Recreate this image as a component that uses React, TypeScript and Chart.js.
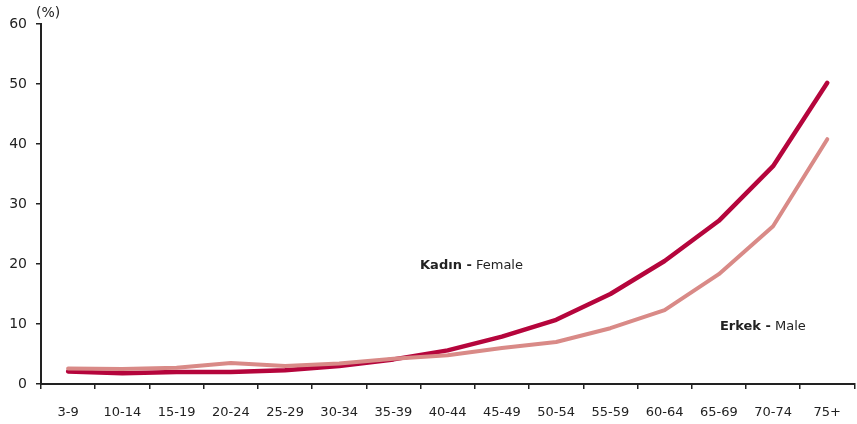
import React, { useEffect, useRef } from "react";
import { Chart, registerables } from "chart.js";

Chart.register(...registerables);

const categories = ["3-9", "10-14", "15-19", "20-24", "25-29", "30-34", "35-39", "40-44", "45-49", "50-54", "55-59", "60-64", "65-69", "70-74", "75+"];
const femaleValues = [2.1, 1.8, 2.0, 2.0, 2.3, 3.0, 4.1, 5.6, 7.9, 10.7, 15.0, 20.5, 27.2, 36.3, 50.2];
const maleValues = [2.6, 2.5, 2.7, 3.5, 3.0, 3.4, 4.2, 4.8, 6.0, 7.0, 9.3, 12.3, 18.3, 26.3, 40.8];
const yTicks = [0, 10, 20, 30, 40, 50, 60];

const FONT = "'DejaVu Sans', Verdana, sans-serif";
const TEXT = "#222222";

const annotations = [
  { bold: "Kadın -", normal: " Female", xIndex: 6.49, y: 19.7 },
  { bold: "Erkek -", normal: " Male", xIndex: 12.02, y: 9.5 },
];

const textPlugin = {
  id: "textPlugin",
  afterDraw(chart: any) {
    const ctx = chart.ctx;
    const xs = chart.scales.x;
    const ys = chart.scales.y;
    ctx.save();
    ctx.textBaseline = "middle";
    ctx.textAlign = "left";
    ctx.fillStyle = TEXT;
    for (const a of annotations) {
      const px = xs.getPixelForValue(a.xIndex);
      const py = ys.getPixelForValue(a.y);
      ctx.font = `bold 13px ${FONT}`;
      ctx.fillText(a.bold, px, py);
      const w = ctx.measureText(a.bold).width;
      ctx.font = `13px ${FONT}`;
      ctx.fillText(a.normal, px + w, py);
    }
    ctx.font = `14px ${FONT}`;
    ctx.textAlign = "left";
    ctx.fillText("(%)", ys.right - 5, ys.top - 11);
    ctx.restore();
  },
};

export default function App() {
  const ref = useRef<HTMLCanvasElement>(null);
  useEffect(() => {
    if (!ref.current) return;
    const chart = new Chart(ref.current, {
      type: "line",
      data: {
        labels: categories,
        datasets: [
          {
            label: "Erkek - Male",
            data: maleValues,
            borderColor: "#d98a87",
            backgroundColor: "#d98a87",
            borderWidth: 4,
            pointRadius: 0,
            tension: 0,
            borderCapStyle: "round",
            borderJoinStyle: "round",
          },
          {
            label: "Kadın - Female",
            data: femaleValues,
            borderColor: "#b5053c",
            backgroundColor: "#b5053c",
            borderWidth: 4.5,
            pointRadius: 0,
            tension: 0,
            borderCapStyle: "round",
            borderJoinStyle: "round",
          },
        ],
      },
      options: {
        animation: false,
        responsive: false,
        maintainAspectRatio: false,
        layout: { padding: { top: 24, right: 0, left: 0, bottom: 0 } },
        plugins: { legend: { display: false }, tooltip: { enabled: false } },
        scales: {
          x: {
            offset: true,
            grid: { display: true, drawOnChartArea: false, drawTicks: true, tickLength: 5, offset: true, color: TEXT, lineWidth: 1.5 },
            border: { display: true, color: TEXT, width: 2 },
            ticks: { color: TEXT, font: { family: FONT, size: 13 }, padding: 16, maxRotation: 0, autoSkip: false },
            afterFit: (s: any) => { s.height = 40; },
          },
          y: {
            min: 0,
            max: 60,
            afterBuildTicks: (s: any) => { s.ticks = yTicks.map((v) => ({ value: v })); },
            grid: { display: true, drawOnChartArea: false, drawTicks: true, tickLength: 5, color: TEXT, lineWidth: 1.5 },
            border: { display: true, color: TEXT, width: 2 },
            ticks: { color: TEXT, font: { family: FONT, size: 14 }, padding: 9 },
            afterFit: (s: any) => { s.width = 41; },
          },
        },
      },
      plugins: [textPlugin],
    });
    return () => chart.destroy();
  }, []);
  return (
    <div style={{ position: "fixed", left: 0, top: 0, width: 857, height: 424, background: "#fff" }}>
      <canvas ref={ref} width={857} height={424} style={{ width: 857, height: 424 }} />
    </div>
  );
}
